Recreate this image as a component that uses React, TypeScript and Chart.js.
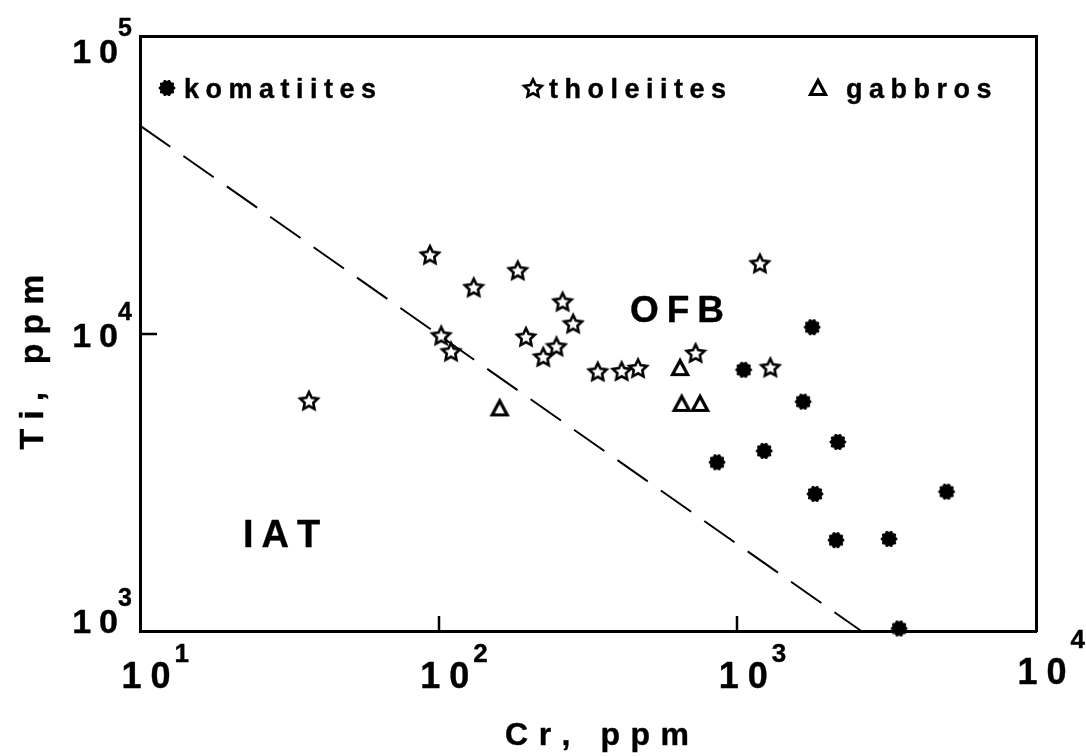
import React, { useEffect, useRef } from 'react';
import { Chart, registerables } from 'chart.js';

Chart.register(...registerables);

// ---- data ----
const komatiitesCr = [1780, 1050, 1660, 2170, 1230, 855, 1820, 5020, 2140, 3220, 3480];
const komatiitesTi = [10500, 7550, 5900, 4320, 4030, 3690, 2890, 2940, 2020, 2040, 1020];
const tholeiitesCr = [93.5, 184, 131, 260, 282, 196, 102, 110, 248, 224, 341, 36.8, 1190, 725, 410, 465, 1290];
const tholeiitesTi = [18400, 16300, 14300, 12800, 10800, 9750, 9850, 8700, 9050, 8350, 7450, 5950, 17200, 8600, 7480, 7650, 7700];
const gabbrosCr = [160, 643, 651, 750];
const gabbrosTi = [5600, 7650, 5800, 5800];
const boundaryCr = [10, 2600];
const boundaryTi = [50000, 1000];
const xTickValues = [10, 100, 1000, 10000];
const yTickValues = [1000, 10000, 100000];
const xInnerTicks = [100, 1000];
const yInnerTicks = [10000];
const legendLabels = ['komatiites', 'tholeiites', 'gabbros'];
const fieldLabels = ['OFB', 'IAT'];
const xTitle = 'Cr, ppm';
const yTitle = 'Ti, ppm';

const FONT = '"Liberation Sans", Arial, Helvetica, sans-serif';

function toPoints(xs: number[], ys: number[]) {
  return xs.map((x, i) => ({ x, y: ys[i] }));
}

function makeStar(): HTMLCanvasElement {
  const c = document.createElement('canvas');
  c.width = 24; c.height = 24;
  const g = c.getContext('2d')!;
  g.beginPath();
  const R = 9.3, r = 4.5;
  for (let i = 0; i < 10; i++) {
    const a = -Math.PI / 2 + (i * Math.PI) / 5;
    const rr = i % 2 === 0 ? R : r;
    const px = 12 + rr * Math.cos(a), py = 12.8 + rr * Math.sin(a);
    if (i === 0) g.moveTo(px, py); else g.lineTo(px, py);
  }
  g.closePath();
  g.fillStyle = '#fff'; g.fill();
  g.lineWidth = 2.6; g.lineJoin = 'miter'; g.strokeStyle = '#000'; g.stroke();
  return c;
}

function makeBlob(): HTMLCanvasElement {
  const c = document.createElement('canvas');
  c.width = 22; c.height = 22;
  const g = c.getContext('2d')!;
  g.beginPath();
  const n = 120;
  for (let i = 0; i <= n; i++) {
    const a = (i / n) * Math.PI * 2;
    const rr = 7.8 + 0.7 * Math.cos(10 * a);
    const px = 11 + rr * Math.cos(a), py = 11 + rr * Math.sin(a);
    if (i === 0) g.moveTo(px, py); else g.lineTo(px, py);
  }
  g.closePath();
  g.fillStyle = '#000'; g.fill();
  return c;
}

function makeTriangle(): HTMLCanvasElement {
  const c = document.createElement('canvas');
  c.width = 24; c.height = 24;
  const g = c.getContext('2d')!;
  g.beginPath();
  g.moveTo(12, 4.5);
  g.lineTo(4.5, 18.5);
  g.lineTo(19.5, 18.5);
  g.closePath();
  g.lineWidth = 3.2; g.lineJoin = 'miter'; g.strokeStyle = '#000'; g.stroke();
  return c;
}

function spacedText(ctx: CanvasRenderingContext2D, text: string, x: number, y: number, spacing: number, align: 'left' | 'center' | 'right' = 'left') {
  const chars = [...text];
  const widths = chars.map((ch) => ctx.measureText(ch).width);
  const total = widths.reduce((a, b) => a + b, 0) + spacing * (chars.length - 1);
  let cx = align === 'center' ? x - total / 2 : align === 'right' ? x - total : x;
  ctx.textAlign = 'left';
  ctx.lineWidth = 0.4;
  ctx.lineJoin = 'round';
  chars.forEach((ch, i) => {
    ctx.fillText(ch, cx, y);
    ctx.strokeText(ch, cx, y);
    cx += widths[i] + spacing;
  });
  return total;
}

export default function App() {
  const ref = useRef<HTMLCanvasElement>(null);

  useEffect(() => {
    const star = makeStar();
    const blob = makeBlob();
    const tri = makeTriangle();

    const decorPlugin = {
      id: 'decor',
      afterDraw(chart: any) {
        const ctx: CanvasRenderingContext2D = chart.ctx;
        const xs = chart.scales.x;
        const ys = chart.scales.y;
        const area = chart.chartArea;
        ctx.save();
        ctx.fillStyle = '#000';
        ctx.strokeStyle = '#000';
        // inner ticks
        ctx.lineWidth = 2.5;
        xInnerTicks.forEach((v) => {
          const px = Math.round(xs.getPixelForValue(v));
          ctx.beginPath(); ctx.moveTo(px, area.bottom); ctx.lineTo(px, area.bottom - 15); ctx.stroke();
        });
        yInnerTicks.forEach((v) => {
          const py = Math.round(ys.getPixelForValue(v));
          ctx.beginPath(); ctx.moveTo(area.left, py); ctx.lineTo(area.left + 17, py); ctx.stroke();
        });
        ctx.textBaseline = 'alphabetic';
        // y tick labels: "10" + superscript exponent
        const yShift = [2, 13, 27];
        yTickValues.forEach((v, i) => {
          const py = ys.getPixelForValue(v) + yShift[i];
          ctx.font = `bold 34px ${FONT}`;
          spacedText(ctx, '10', area.left - 22, py, 8, 'right');
          ctx.font = `bold 25px ${FONT}`;
          spacedText(ctx, String(Math.round(Math.log10(v))), area.left - 22, py - 27, 0, 'left');
        });
        // x tick labels
        const xShift = [0, 0, 0, -4];
        const expShift = [0, 0, 0, -10];
        xTickValues.forEach((v, i) => {
          const px = xs.getPixelForValue(v) + 6;
          const base = area.bottom + 57 + xShift[i];
          ctx.font = `bold 36px ${FONT}`;
          const w = spacedText(ctx, '10', px, base, 9, 'center');
          ctx.font = `bold 26px ${FONT}`;
          spacedText(ctx, String(Math.round(Math.log10(v))), px + w / 2 + 4, base - 26 + expShift[i], 0, 'left');
        });
        // axis titles
        ctx.font = `bold 32px ${FONT}`;
        spacedText(ctx, xTitle, (area.left + area.right) / 2 + 9, 745, 10.5, 'center');
        ctx.save();
        ctx.translate(43, 362);
        ctx.rotate(-Math.PI / 2);
        ctx.font = `bold 34px ${FONT}`;
        spacedText(ctx, yTitle, 0, 0, 9, 'center');
        ctx.restore();
        // legend
        const legendX = [167, 533, 818];
        const legendTextX = [184, 549, 846];
        const legendImgs = [blob, star, tri];
        ctx.font = `bold 27px ${FONT}`;
        legendLabels.forEach((lab, i) => {
          const img = legendImgs[i];
          ctx.drawImage(img, legendX[i] - img.width / 2, 88 - img.height / 2);
          spacedText(ctx, lab, legendTextX[i], 98, 6.5, 'left');
        });
        // field labels
        ctx.font = `bold 37px ${FONT}`;
        spacedText(ctx, fieldLabels[0], 677, 322, 8, 'center');
        ctx.font = `bold 38px ${FONT}`;
        spacedText(ctx, fieldLabels[1], 243, 547, 8, 'left');
        ctx.restore();
      },
    };

    const frameAxis = {
      type: 'logarithmic' as const,
      border: { display: true, width: 3, color: '#000' },
      grid: { display: false, drawTicks: false },
      ticks: { display: false },
      title: { display: false },
    };

    const chart = new Chart(ref.current!, {
      type: 'scatter',
      data: {
        datasets: [
          {
            label: 'boundary',
            data: toPoints(boundaryCr, boundaryTi),
            showLine: true,
            borderColor: '#000',
            borderWidth: 2,
            borderDash: [37, 16],
            pointRadius: 0,
            clip: false as any,
          },
          {
            label: legendLabels[0],
            data: toPoints(komatiitesCr, komatiitesTi),
            pointStyle: blob as any,
            pointRadius: 8,
            clip: false as any,
          },
          {
            label: legendLabels[1],
            data: toPoints(tholeiitesCr, tholeiitesTi),
            pointStyle: star as any,
            pointRadius: 9,
            clip: false as any,
          },
          {
            label: legendLabels[2],
            data: toPoints(gabbrosCr, gabbrosTi),
            pointStyle: tri as any,
            pointRadius: 9,
            clip: false as any,
          },
        ],
      },
      options: {
        animation: false,
        responsive: false,
        events: [],
        layout: { padding: { left: 140, right: 50, top: 36, bottom: 125 } },
        plugins: { legend: { display: false }, tooltip: { enabled: false } },
        scales: {
          x: { ...frameAxis, position: 'bottom', min: 10, max: 10000 },
          y: { ...frameAxis, position: 'left', min: 1000, max: 100000 },
          x2: { ...frameAxis, position: 'top', min: 10, max: 10000 },
          y2: { ...frameAxis, position: 'right', min: 1000, max: 100000 },
        },
      } as any,
      plugins: [decorPlugin],
    });
    return () => chart.destroy();
  }, []);

  return (
    <div style={{ position: 'absolute', left: 0, top: 0, width: 1086, height: 756, background: '#fff' }}>
      <canvas ref={ref} width={1086} height={756} style={{ display: 'block', width: 1086, height: 756 }} />
    </div>
  );
}
